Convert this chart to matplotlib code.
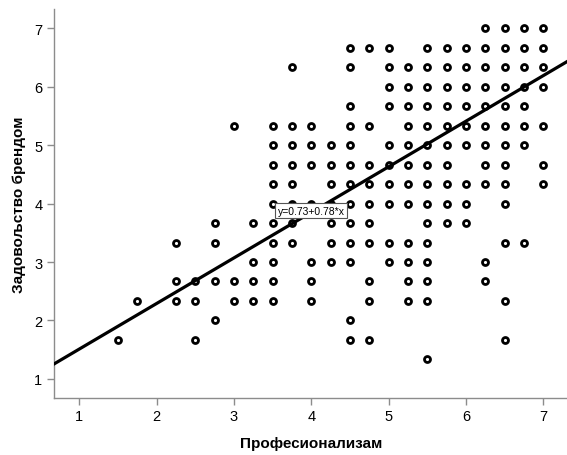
import matplotlib
matplotlib.use("Agg")
import matplotlib.pyplot as plt
import numpy as np

# Професионализам values (x) found at each level of Задовољство брендом (y)
y_levels = [7, 20/3, 19/3, 6, 17/3, 16/3, 5, 14/3, 13/3, 4, 11/3, 10/3, 3, 8/3, 7/3, 2, 5/3, 4/3]

x_at_7_00 = [6.25, 6.5, 6.75, 7.0]
x_at_6_67 = [4.5, 4.75, 5.0, 5.5, 5.75, 6.0, 6.25, 6.5, 6.75, 7.0]
x_at_6_33 = [3.75, 4.5, 5.0, 5.25, 5.5, 5.75, 6.0, 6.25, 6.5, 6.75, 7.0]
x_at_6_00 = [5.0, 5.25, 5.5, 5.75, 6.0, 6.25, 6.5, 6.75, 7.0]
x_at_5_67 = [4.5, 5.0, 5.25, 5.5, 5.75, 6.0, 6.25, 6.5, 6.75]
x_at_5_33 = [3.0, 3.5, 3.75, 4.0, 4.5, 4.75, 5.25, 5.5, 5.75, 6.0, 6.25, 6.5, 6.75, 7.0]
x_at_5_00 = [3.5, 3.75, 4.0, 4.25, 4.5, 5.0, 5.25, 5.5, 5.75, 6.0, 6.25, 6.5, 6.75]
x_at_4_67 = [3.5, 3.75, 4.0, 4.25, 4.5, 4.75, 5.0, 5.25, 5.5, 5.75, 6.25, 6.5, 7.0]
x_at_4_33 = [3.5, 3.75, 4.25, 4.5, 4.75, 5.0, 5.25, 5.5, 5.75, 6.0, 6.25, 6.5, 7.0]
x_at_4_00 = [3.5, 3.75, 4.0, 4.25, 4.5, 4.75, 5.0, 5.25, 5.5, 5.75, 6.0, 6.5]
x_at_3_67 = [2.75, 3.25, 3.5, 3.75, 4.25, 4.5, 4.75, 5.5, 5.75, 6.0]
x_at_3_33 = [2.25, 2.75, 3.5, 3.75, 4.25, 4.5, 4.75, 5.0, 5.25, 5.5, 6.5, 6.75]
x_at_3_00 = [3.25, 3.5, 4.0, 4.25, 4.5, 5.0, 5.25, 5.5, 6.25]
x_at_2_67 = [2.25, 2.5, 2.75, 3.0, 3.25, 3.5, 4.0, 4.75, 5.25, 5.5, 6.25]
x_at_2_33 = [1.75, 2.25, 2.5, 3.0, 3.25, 3.5, 4.0, 4.75, 5.25, 5.5, 6.5]
x_at_2_00 = [2.75, 4.5]
x_at_1_67 = [1.5, 2.5, 4.5, 4.75, 6.5]
x_at_1_33 = [5.5]

rows = [x_at_7_00, x_at_6_67, x_at_6_33, x_at_6_00, x_at_5_67, x_at_5_33,
        x_at_5_00, x_at_4_67, x_at_4_33, x_at_4_00, x_at_3_67, x_at_3_33,
        x_at_3_00, x_at_2_67, x_at_2_33, x_at_2_00, x_at_1_67, x_at_1_33]

# fit line as reported on the chart
intercept = 0.73
slope = 0.78

x = np.concatenate([np.array(r) for r in rows])
y = np.concatenate([np.full(len(r), lv) for r, lv in zip(rows, y_levels)])

plt.rcParams["font.family"] = ["Liberation Sans", "DejaVu Sans"]

fig = plt.figure(figsize=(5.67, 4.56), dpi=100)
ax = fig.add_axes([0.0944, 0.1243, 0.909, 0.854])

ax.plot(x, y, linestyle="none", marker="o", markersize=4.3,
        markerfacecolor="white", markeredgecolor="black",
        markeredgewidth=2.0, zorder=3)

xmin, xmax = 0.667, 7.333
xl = np.array([xmin, xmax])
ax.plot(xl, intercept + slope * xl, color="black", linewidth=2.3, zorder=4)

ax.text(4.0, intercept + slope * 4.0 + 0.03, "y=0.73+0.78*x", fontsize=7.5,
        ha="center", va="center", zorder=5,
        bbox=dict(boxstyle="square,pad=0.25", facecolor="white",
                  edgecolor="#555555", linewidth=0.8))

ax.set_xlim(xmin, xmax)
ax.set_ylim(0.667, 7.333)
ax.set_xticks(range(1, 8))
ax.set_yticks(range(1, 8))

for side in ["top", "right"]:
    ax.spines[side].set_visible(False)
for side in ["left", "bottom"]:
    ax.spines[side].set_color("#8c8c8c")
    ax.spines[side].set_linewidth(1.0)

ax.tick_params(axis="both", direction="out", length=5, width=1.0,
               color="#8c8c8c", labelsize=10.5, labelcolor="black", pad=3)

ax.set_xlabel("Професионализам", fontsize=11, fontweight="bold", labelpad=9)
ax.set_ylabel("Задовољство брендом", fontsize=11, fontweight="bold", labelpad=6)

fig.savefig("out.png", dpi=100)
